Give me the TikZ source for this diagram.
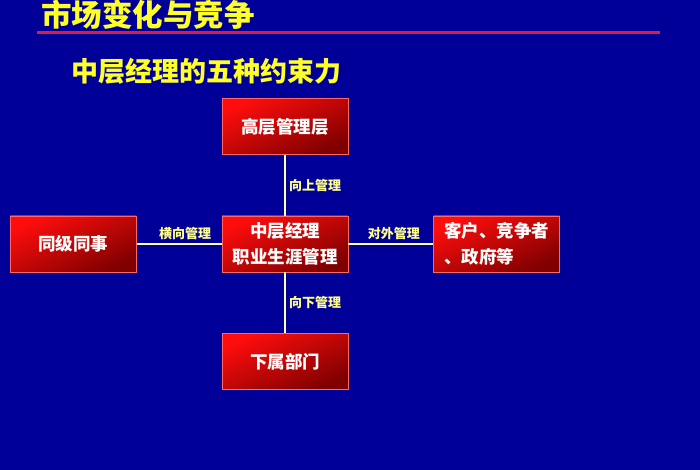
\documentclass[tikz,border=0pt]{standalone}
\usepackage{fontspec}
\usepackage{tikz}
\usetikzlibrary{positioning}
\newfontfamily\cjk{Noto Sans CJK SC}
\definecolor{slideblue}{RGB}{0,0,153}
\definecolor{titleyellow}{RGB}{255,255,40}
\definecolor{linkyellow}{RGB}{255,255,170}
\definecolor{lblyellow}{RGB}{255,255,140}
\definecolor{rulered}{RGB}{225,25,70}

\begin{document}
\begin{tikzpicture}[
    x=1pt, y=1pt,
    node distance=61pt and 85pt,
    box/.style={rectangle, draw=red!60!white, line width=0.6pt, minimum width=126pt, minimum height=56pt, align=center, text=white, font=\cjk\bfseries\fontsize{17.5}{26}\selectfont, top color=red!95!white, bottom color=red!50!black, shading angle=25},
    link/.style={draw=linkyellow, line width=2pt},
    lbl/.style={text=lblyellow, font=\cjk\bfseries\fontsize{13}{14}\selectfont, inner sep=3pt}
]
\useasboundingbox (0,0) rectangle (700,470);
\fill[slideblue] (0,0) rectangle (700,470);

% headings
\node[anchor=west, inner sep=0pt, text=titleyellow, font=\cjk\bfseries\fontsize{30.5}{32}\selectfont] (title) at (41,455) {市场变化与竞争};
\draw[rulered, line width=3pt] (37,437) -- (660,437);
\node[anchor=west, inner sep=0pt, text=titleyellow, font=\cjk\bfseries\fontsize{27}{30}\selectfont] (subtitle) at (71,399) {中层经理的五种约束力};

% five forces
\node[box] (middle) at (285,226) {中层经理\\职业生涯管理};
\node[box, above=of middle] (upper) {高层管理层};
\node[box, below=of middle] (lower) {下属部门};
\node[box, left=of middle] (peers) {同级同事};
\node[box, right=of middle, align=left] (outside) {客户、竞争者\\、政府等};

\draw[link] (upper) -- node[lbl, right] {向上管理} (middle);
\draw[link] (middle) -- node[lbl, right] {向下管理} (lower);
\draw[link] (peers) -- node[lbl, above, xshift=6pt] {横向管理} (middle);
\draw[link] (middle) -- node[lbl, above, xshift=3pt] {对外管理} (outside);
\end{tikzpicture}
\end{document}
